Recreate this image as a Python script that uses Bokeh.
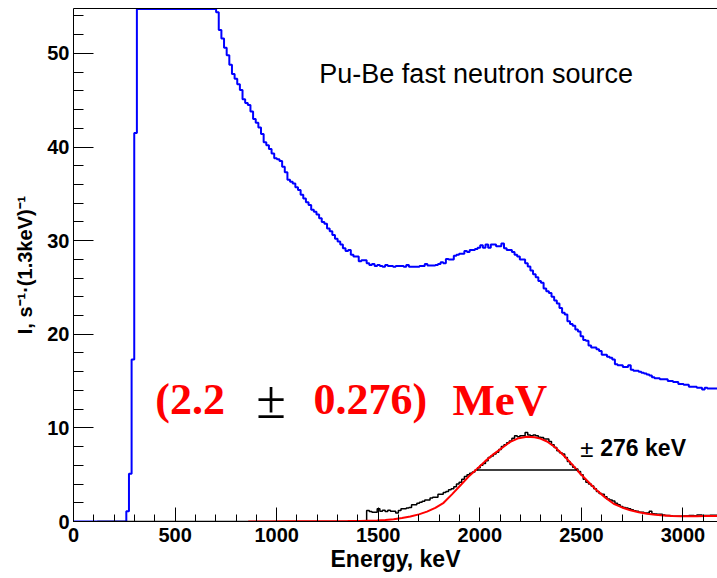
import numpy as np
from bokeh.plotting import figure
from bokeh.models import Label, LinearAxis, SingleIntervalTicker, FixedTicker, Range1d
from bokeh.embed import file_html
from bokeh.resources import INLINE

# ---------------- data ----------------
BIN_KEV = 13.0  # width of one histogram bin, keV

# Pu-Be spectrum (blue), one value per 13 keV bin starting at 0 keV
# (bins that run off the top of the scale are read as the top of the axis: 54.75)
blue_counts = [
    0, 0, 0, 0, 0, 0, 0, 0, 0, 0, 0, 0, 0, 0, 0, 0, 0, 0, 0, 0,
    1.1, 5.1, 17.3, 41.5,
    54.75, 54.75, 54.75, 54.75, 54.75, 54.75, 54.75, 54.75, 54.75, 54.75,
    54.75, 54.75, 54.75, 54.75, 54.75, 54.75, 54.75, 54.75, 54.75, 54.75,
    54.75, 54.75, 54.75, 54.75, 54.75, 54.75, 54.75, 54.75, 54.75, 54.75,
    54.4, 52.5, 51.6, 50.6, 49.8, 48.8, 47.8, 47.3, 46.7, 46.1,
    45.1, 44.7, 44.5, 43.8, 43.0, 42.6, 42.1, 41.4, 40.5, 40.2,
    39.8, 39.3, 38.8, 38.7, 38.5, 37.9, 37.3, 36.5, 36.3, 36.1,
    35.7, 35.4, 34.9, 34.5, 34.1, 33.8, 33.3, 33.1, 32.8, 32.4,
    32.0, 31.8, 31.3, 31.0, 30.6, 30.2, 29.9, 29.6, 29.2, 28.9,
    29.0, 28.5, 28.3, 28.3, 27.8, 27.9, 27.9, 27.6, 27.4, 27.5,
    27.3, 27.4, 27.3, 27.2, 27.4, 27.3, 27.3, 27.2, 27.3, 27.3,
    27.3, 27.2, 27.4, 27.2, 27.2, 27.2, 27.2, 27.3, 27.3, 27.5,
    27.35, 27.35, 27.35, 27.4, 27.5, 27.7, 27.6, 28.05, 28.0, 28.0,
    28.4, 28.5, 28.6, 28.6, 28.9, 28.8, 29.0, 29.0, 29.1, 29.25,
    29.5, 29.25, 29.6, 29.25, 29.6, 29.6, 29.4, 29.4, 29.7, 29.2,
    29.0, 29.0, 28.8, 28.5, 28.3, 28.0, 28.0, 27.6, 27.25, 26.8,
    26.4, 26.1, 25.7, 25.5, 24.9, 24.6, 24.4, 24.0, 23.6, 23.3,
    22.8, 22.3, 22.1, 21.4, 21.1, 20.9, 20.5, 20.3, 19.8, 19.4,
    19.3, 18.8, 18.6, 18.6, 18.4, 18.2, 17.8, 17.8, 17.6, 17.5,
    17.3, 16.8, 16.7, 16.7, 16.5, 16.5, 16.7, 16.2, 16.1, 16.1,
    16.0, 15.9, 15.8, 15.7, 15.6, 15.4, 15.3, 15.3, 15.2, 15.2,
    15.2, 15.0, 15.0, 14.9, 14.9, 14.7, 14.7, 14.6, 14.6, 14.4,
    14.4, 14.4, 14.3, 14.3, 14.1, 14.3, 14.2, 14.2, 14.2, 14.2,
]

# 2.2 MeV peak (black), 13 keV bins starting at bin 9 (117 keV)
peak_first_bin = 9
peak_counts = [0] * 102 + [
    1.17, 1.06, 1.0, 1.0, 1.35, 1.1, 1.2, 1.06, 1.2, 1.1,
    1.1, 0.9, 1.17, 1.35, 1.35, 1.45, 1.5, 1.8, 1.8, 1.95,
    2.05, 2.15, 2.3, 2.3, 2.5, 2.6, 2.6, 2.9, 2.9, 3.1,
    3.2, 3.4, 3.5, 3.7, 4.0, 4.2, 4.5, 4.8, 5.0, 5.15,
    5.3, 5.5, 5.75, 6.0, 6.2, 6.5, 6.85, 7.0, 7.2, 7.4,
    7.7, 8.0, 8.2, 8.4, 8.6, 8.9, 9.15, 9.05, 9.15, 9.15,
    9.5, 9.25, 9.15, 9.25, 9.15, 9.0, 8.97, 8.8, 8.8, 8.55,
    8.2, 7.9, 7.55, 7.35, 7.2, 6.85, 6.4, 6.1, 5.8, 5.6,
    5.35, 5.0, 4.5, 4.2, 4.0, 3.8, 3.5, 3.2, 3.0, 2.9,
    2.65, 2.4, 2.3, 2.2, 1.95, 1.8, 1.6, 1.5, 1.45, 1.35,
    1.25, 1.15, 1.1, 1.0, 1.0, 0.9, 0.9, 1.1, 0.83, 0.8,
    0.77, 0.77, 0.7, 0.65, 0.65, 0.6, 0.55, 0.55, 0.55, 0.55,
    0.6, 0.6, 0.65, 0.65, 0.62, 0.7, 0.7, 0.65, 0.65, 0.65,
    0.68, 0.68, 0.68,
]

# fitted curve (red), read at these energies
fit_energy = [860, 950, 1050, 1150, 1250, 1350, 1412, 1450, 1494, 1535,
              1576, 1617, 1658, 1700, 1740, 1781, 1822, 1863, 1904, 1945,
              1986, 2027, 2068, 2109, 2150, 2191, 2232, 2270, 2298, 2331,
              2372, 2413, 2454, 2495, 2536, 2577, 2618, 2659, 2700, 2741,
              2782, 2823, 2864, 2905, 2946, 2987, 3028, 3069, 3110, 3170]
fit_values = [0.0, 0.01, 0.02, 0.03, 0.04, 0.05, 0.06, 0.08, 0.1, 0.15,
              0.25, 0.38, 0.53, 0.76, 1.06, 1.45, 2.0, 2.9, 3.85, 4.8,
              5.6, 6.45, 7.2, 7.85, 8.5, 8.9, 9.05, 9.0, 8.85, 8.55,
              7.9, 7.05, 6.1, 5.1, 4.2, 3.3, 2.55, 1.9, 1.5, 1.2,
              0.98, 0.83, 0.72, 0.65, 0.58, 0.55, 0.55, 0.56, 0.58, 0.6]

# width marker of the peak
width_lo_kev, width_hi_kev, width_level = 1987, 2479, 5.5

x_tick_step, y_tick_step = 500, 10
x_label = "Energy, keV"
y_label = "I, s\u207b\u00b9\u00b7(1.3keV)\u207b\u00b9"
title_text = "Pu-Be fast neutron source"


def step_xy(first_bin, counts):
    counts = np.asarray(counts, dtype=float)
    edges = (first_bin + np.arange(len(counts) + 1)) * BIN_KEV
    xs = np.repeat(edges, 2)[1:-1]
    ys = np.repeat(counts, 2)
    return xs, ys


# ---------------- figure ----------------
p = figure(width=717, height=578, x_range=Range1d(0, 3170), y_range=Range1d(0, 54.8),
           output_backend="svg", toolbar_location=None,
           x_axis_type=None, y_axis_type=None,
           min_border_left=73, min_border_right=0, min_border_top=8, min_border_bottom=57)
p.outline_line_color = None
p.background_fill_color = "white"
p.border_fill_color = "white"

FONT = "Liberation Sans"

xaxis = LinearAxis(ticker=SingleIntervalTicker(interval=x_tick_step, num_minor_ticks=5),
                   axis_label=x_label)
yaxis = LinearAxis(ticker=SingleIntervalTicker(interval=y_tick_step, num_minor_ticks=5),
                   axis_label=y_label)
for ax, tin, mtin in ((xaxis, 14, 7), (yaxis, 20, 10)):
    ax.major_tick_in = tin
    ax.major_tick_out = 0
    ax.minor_tick_in = mtin
    ax.minor_tick_out = 0
    ax.axis_line_color = "black"
    ax.major_tick_line_color = "black"
    ax.minor_tick_line_color = "black"
    ax.major_label_text_font = FONT
    ax.major_label_text_font_style = "bold"
    ax.major_label_text_font_size = "20px"
    ax.major_label_text_color = "black"
    ax.axis_label_text_font = FONT
    ax.axis_label_text_font_style = "bold"
    ax.axis_label_text_color = "black"
xaxis.major_label_standoff = 6
xaxis.axis_label_text_font_size = "23px"
xaxis.axis_label_standoff = 1
yaxis.major_label_standoff = 4
yaxis.axis_label_text_font_size = "20px"
yaxis.axis_label_standoff = 8
p.add_layout(xaxis, "below")
p.add_layout(yaxis, "left")

top = LinearAxis(ticker=FixedTicker(ticks=[]), major_label_text_font_size="0px",
                 major_tick_in=0, major_tick_out=0, minor_tick_in=0, minor_tick_out=0,
                 major_label_standoff=0, axis_line_color="black")
p.add_layout(top, "above")

bx, by = step_xy(0, blue_counts)
p.line(bx, by, line_color="#0000ff", line_width=2)
kx, ky = step_xy(peak_first_bin, peak_counts)
p.line(kx, ky, line_color="black", line_width=1.5)
p.line(fit_energy, fit_values, line_color="#ff0000", line_width=2)
p.line([width_lo_kev, width_hi_kev], [width_level, width_level], line_color="black", line_width=1.5)

big_y = 13.0
p.add_layout(Label(x=1210, y=47.75, text=title_text, text_font=FONT, text_font_size="27px",
                   text_color="black", text_baseline="alphabetic"))
p.add_layout(Label(x=403, y=big_y, text="(2.2", text_font="Liberation Serif", text_font_style="bold",
                   text_font_size="44px", text_color="#ff0000", text_baseline="alphabetic"))
p.add_layout(Label(x=972, y=big_y, text="\u00b1", text_font="Liberation Serif",
                   text_font_size="54px", text_color="black", text_align="center",
                   text_baseline="alphabetic"))
p.add_layout(Label(x=1181, y=big_y, text="0.276)", text_font="Liberation Serif", text_font_style="bold",
                   text_font_size="44px", text_color="#ff0000", text_baseline="alphabetic"))
p.add_layout(Label(x=1865, y=big_y, text="MeV", text_font="Liberation Serif", text_font_style="bold",
                   text_font_size="45px", text_color="#ff0000", text_baseline="alphabetic"))
p.add_layout(Label(x=2495, y=7.85, text="\u00b1", text_font=FONT, text_font_size="24px",
                   text_color="black", text_baseline="alphabetic"))
p.add_layout(Label(x=2593, y=7.85, text="276 keV", text_font=FONT, text_font_style="bold",
                   text_font_size="23px", text_color="black", text_baseline="alphabetic"))

open("out.html", "w").write(file_html(p, INLINE))
